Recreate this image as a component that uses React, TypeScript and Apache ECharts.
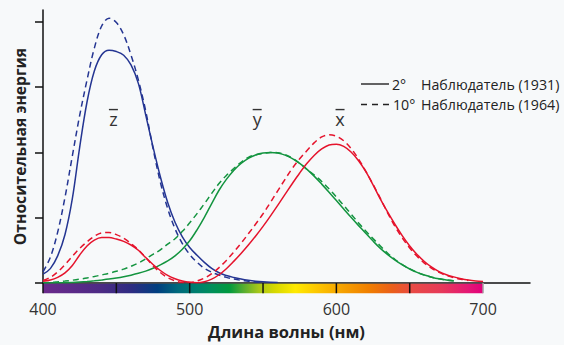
import React, { useEffect, useRef } from "react";
import * as echarts from "echarts";

// CIE 1931 2° observer, 5 nm steps from 400 nm
const nm1931 = Array.from({ length: 61 }, (_, i) => 400 + i * 5);
const xBar1931 = [0.01431, 0.02319, 0.04351, 0.07763, 0.13438, 0.21477, 0.2839, 0.3285, 0.34828, 0.34806, 0.3362, 0.3187, 0.2908, 0.2511, 0.19536, 0.1421, 0.09564, 0.05795, 0.03201, 0.0147, 0.0049, 0.0024, 0.0093, 0.0291, 0.06327, 0.1096, 0.1655, 0.22575, 0.2904, 0.3597, 0.43345, 0.51205, 0.5945, 0.6784, 0.7621, 0.8425, 0.9163, 0.9786, 1.0263, 1.0567, 1.0622, 1.0456, 1.0026, 0.9384, 0.85445, 0.7514, 0.6424, 0.5419, 0.4479, 0.3608, 0.2835, 0.2187, 0.1649, 0.1212, 0.0874, 0.0636, 0.04677, 0.0329, 0.0227, 0.01584, 0.011359];
const yBar1931 = [0.000396, 0.00064, 0.00121, 0.00218, 0.004, 0.0073, 0.0116, 0.01684, 0.023, 0.0298, 0.038, 0.048, 0.06, 0.0739, 0.09098, 0.1126, 0.13902, 0.1693, 0.20802, 0.2586, 0.323, 0.4073, 0.503, 0.6082, 0.71, 0.7932, 0.862, 0.91485, 0.954, 0.9803, 0.99495, 1.0, 0.995, 0.9786, 0.952, 0.9154, 0.87, 0.8163, 0.757, 0.6949, 0.631, 0.5668, 0.503, 0.4412, 0.381, 0.321, 0.265, 0.217, 0.175, 0.1382, 0.107, 0.0816, 0.061, 0.04458, 0.032, 0.0232, 0.017];
const zBar1931 = [0.06785, 0.1102, 0.2074, 0.3713, 0.6456, 1.03905, 1.3856, 1.62296, 1.74706, 1.7826, 1.77211, 1.7441, 1.6692, 1.5281, 1.28764, 1.0419, 0.81295, 0.6162, 0.46518, 0.3533, 0.272, 0.2123, 0.1582, 0.1117, 0.07825, 0.05725, 0.04216, 0.02984, 0.0203, 0.0134, 0.00875, 0.00575, 0.0039];

// CIE 1964 10° observer, 5 nm steps from 400 nm
const nm1964 = nm1931;
const xBar1964 = [0.01911, 0.0434, 0.084736, 0.140638, 0.204492, 0.264737, 0.314679, 0.357719, 0.383734, 0.386726, 0.370702, 0.342957, 0.302273, 0.254085, 0.195618, 0.132349, 0.080507, 0.041072, 0.016172, 0.005132, 0.003816, 0.015444, 0.037465, 0.071358, 0.117749, 0.172953, 0.236491, 0.304213, 0.376772, 0.451584, 0.529826, 0.616053, 0.705224, 0.793832, 0.878655, 0.951162, 1.01416, 1.0743, 1.11852, 1.1343, 1.12399, 1.0891, 1.03048, 0.95074, 0.856297, 0.75493, 0.647467, 0.53511, 0.431567, 0.34369, 0.268329, 0.2043, 0.152568, 0.11221, 0.081261, 0.05793, 0.040851, 0.028623, 0.019941];
const yBar1964 = [0.002004, 0.004509, 0.008756, 0.014456, 0.021391, 0.029497, 0.038676, 0.049602, 0.062077, 0.074704, 0.089456, 0.106256, 0.128201, 0.152761, 0.18519, 0.21994, 0.253589, 0.297665, 0.339133, 0.395379, 0.460777, 0.53136, 0.606741, 0.68566, 0.761757, 0.82333, 0.875211, 0.92381, 0.961988, 0.9822, 0.991761, 0.99911, 0.99734, 0.98238, 0.955552, 0.915175, 0.868934, 0.825623, 0.777405, 0.720353, 0.658341, 0.593878, 0.527963, 0.461834, 0.398057, 0.339554, 0.283493, 0.228254, 0.179828, 0.140211, 0.107633, 0.081187, 0.060281, 0.044096, 0.0318, 0.022602, 0.015905];
const zBar1964 = [0.086011, 0.19712, 0.389366, 0.65676, 0.972542, 1.2825, 1.55348, 1.7985, 1.96728, 2.0273, 1.9948, 1.9007, 1.74537, 1.5549, 1.31756, 1.0302, 0.772125, 0.57006, 0.415254, 0.302356, 0.218502, 0.159249, 0.112044, 0.082248, 0.060709, 0.04305, 0.030451, 0.020584, 0.013676, 0.007918, 0.003988];

const yTickValues = [0, 0.5, 1, 1.5, 2];
const xLabelValues = [400, 500, 600, 700];
const spectrumDividers = [400, 450, 500, 550, 600, 650];
const spectrumStops: [number, string][] = [
  [400, "#6b2a8c"], [440, "#4c2b84"], [460, "#2e2c82"], [478, "#003f80"],
  [492, "#006a7c"], [505, "#00806e"], [515, "#008f5a"], [527, "#009a3e"],
  [537, "#58ae30"], [547, "#a6c71a"], [558, "#d6d800"], [572, "#ffea00"],
  [588, "#fcc400"], [605, "#f5a000"], [622, "#f07f00"], [638, "#ea5f1a"],
  [652, "#e84a45"], [672, "#e6395a"], [690, "#e41775"], [700, "#e2007a"],
];
const curveLabels = [
  { letter: "z", nm: 448, v: 1.255 },
  { letter: "y", nm: 546, v: 1.255 },
  { letter: "x", nm: 602.5, v: 1.255 },
];
const legendRows = [
  { deg: "2°", name: "Наблюдатель (1931)", dash: null as number[] | null },
  { deg: "10°", name: "Наблюдатель (1964)", dash: [6, 5] },
];

const BLUE = "#243592";
const GREEN = "#13943f";
const RED = "#e5132c";
const FONT = "'Open Sans', 'Noto Sans', sans-serif";

function pairs(nms: number[], vals: number[], upTo: number) {
  const out: number[][] = [];
  for (let i = 0; i < vals.length && nms[i] <= upTo; i++) out.push([nms[i], vals[i]]);
  return out;
}

export default function App() {
  const ref = useRef<HTMLDivElement>(null);
  useEffect(() => {
    if (!ref.current) return;
    const chart = echarts.init(ref.current, null, { renderer: "svg" });
    const line = (name: string, data: number[][], color: string, dashed: boolean) => ({
      name,
      type: "line",
      data,
      showSymbol: false,
      symbol: "none",
      smooth: 0.35,
      lineStyle: { color, width: 1.5, type: dashed ? [6, 4] : "solid" },
      z: 3,
    });
    chart.setOption({
      animation: false,
      backgroundColor: "transparent",
      grid: { left: 43, right: 34, top: 10, bottom: 60 },
      xAxis: {
        type: "value",
        min: 400,
        max: 732,
        interval: 100,
        name: "Длина волны (нм)",
        nameLocation: "middle",
        nameGap: 40,
        nameTextStyle: { fontFamily: FONT, fontSize: 16.5, fontWeight: "bold", color: "#222" },
        axisLine: { lineStyle: { color: "#111", width: 1.5 } },
        axisTick: { show: false },
        splitLine: { show: false },
        axisLabel: {
          customValues: xLabelValues,
          margin: 18,
          fontFamily: FONT,
          fontSize: 16,
          color: "#333",
        },
      },
      yAxis: {
        type: "value",
        min: 0,
        max: 2.09,
        interval: 0.5,
        name: "Относительная энергия",
        nameLocation: "middle",
        nameGap: 15,
        nameTextStyle: { fontFamily: FONT, fontSize: 15.7, fontWeight: "bold", color: "#222" },
        axisLine: { show: true, lineStyle: { color: "#111", width: 1.5 } },
        axisTick: { show: true, length: 8, customValues: yTickValues, lineStyle: { color: "#111", width: 1.5 } },
        axisLabel: { show: false },
        splitLine: { show: false },
      },
      series: [
        line("z2", pairs(nm1931, zBar1931, 560), BLUE, false),
        line("z10", pairs(nm1964, zBar1964, 550), BLUE, true),
        line("y2", pairs(nm1931, yBar1931, 680), GREEN, false),
        line("y10", pairs(nm1964, yBar1964, 680), GREEN, true),
        line("x2", pairs(nm1931, xBar1931, 700), RED, false),
        line("x10", pairs(nm1964, xBar1964, 690), RED, true),
      ],
    });

    const px = (nm: number, v: number) => chart.convertToPixel({ gridIndex: 0 }, [nm, v]) as number[];
    const [x400, y0] = px(400, 0);
    const [x700] = px(700, 0);
    const barTop = y0 + 0.75;
    const barH = 9.5;
    const graphics: any[] = [];
    graphics.push({
      type: "rect",
      z: 10,
      shape: { x: x400, y: barTop, width: x700 - x400, height: barH },
      style: {
        fill: new echarts.graphic.LinearGradient(
          0, 0, 1, 0,
          spectrumStops.map(([nm, c]) => ({ offset: (nm - 400) / 300, color: c }))
        ),
      },
    });
    spectrumDividers.forEach((nm) => {
      const [x] = px(nm, 0);
      graphics.push({
        type: "line", z: 11,
        shape: { x1: x, y1: y0, x2: x, y2: barTop + barH },
        style: { stroke: "#111", lineWidth: 1.5 },
      });
    });
    graphics.push({
      type: "line", z: 11,
      shape: { x1: x700, y1: y0, x2: x700, y2: barTop + barH },
      style: { stroke: "#a8a8a8", lineWidth: 1.5 },
    });
    curveLabels.forEach((l) => {
      const [x, y] = px(l.nm, l.v);
      graphics.push({
        type: "text", z: 12, x, y,
        style: { text: l.letter, fill: "#333", font: `18px ${FONT}`, align: "center", verticalAlign: "middle" },
      });
      graphics.push({
        type: "line", z: 12,
        shape: { x1: x - 4.5, y1: y - 9.5, x2: x + 4.5, y2: y - 9.5 },
        style: { stroke: "#333", lineWidth: 1.4 },
      });
    });
    legendRows.forEach((r, i) => {
      const y = 84 + i * 20.5;
      graphics.push({
        type: "line", z: 12,
        shape: { x1: 361, y1: y, x2: 389, y2: y },
        style: { stroke: "#222", lineWidth: 1.4, lineDash: r.dash || undefined },
      });
      graphics.push({
        type: "text", z: 12, x: i === 0 ? 392 : 393, y,
        style: { text: r.deg, fill: "#222", font: `14.2px ${FONT}`, align: "left", verticalAlign: "middle" },
      });
      graphics.push({
        type: "text", z: 12, x: 421, y,
        style: { text: r.name, fill: "#222", font: `14.2px ${FONT}`, align: "left", verticalAlign: "middle" },
      });
    });
    chart.setOption({ graphic: graphics });
    return () => chart.dispose();
  }, []);
  return (
    <div
      ref={ref}
      style={{ position: "fixed", left: 0, top: 0, width: 564, height: 345, background: "#f7f9fa" }}
    />
  );
}
